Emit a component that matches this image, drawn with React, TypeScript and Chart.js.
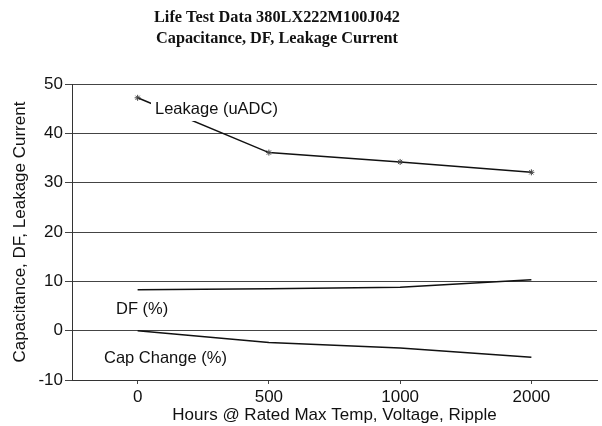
import React, { useEffect, useRef } from "react";
import { Chart, registerables } from "chart.js";
Chart.register(...registerables);

const hours = ["0", "500", "1000", "2000"];
const leakage = [47.2, 36.1, 34.2, 32.1];
const dfPct = [8.3, 8.5, 8.8, 10.3];
const capChange = [0, -2.4, -3.5, -5.4];
const titleLines = ["Life Test Data 380LX222M100J042", "Capacitance, DF, Leakage Current"];
const seriesLabels = ["Leakage (uADC)", "DF (%)", "Cap Change (%)"];

const overlay = {
  id: "overlay",
  afterDraw(chart: any) {
    const ctx = chart.ctx;
    ctx.save();
    ctx.fillStyle = "#111";
    ctx.font = "bold 17.5px 'Liberation Serif', 'Times New Roman', serif";
    ctx.textAlign = "center";
    ctx.textBaseline = "alphabetic";
    ctx.fillText(titleLines[0], 277, 22, 246);
    ctx.fillText(titleLines[1], 277, 43, 242);
    ctx.font = "16.5px 'Liberation Sans', Arial, sans-serif";
    ctx.textAlign = "left";
    ctx.textBaseline = "middle";
    ctx.fillStyle = "#fff";
    ctx.fillRect(151, 99, 131, 22);
    ctx.fillStyle = "#111";
    ctx.fillText(seriesLabels[0], 155, 109);
    ctx.fillText(seriesLabels[1], 116, 309);
    ctx.fillText(seriesLabels[2], 104, 358);
    ctx.restore();
  },
};

export default function App() {
  const ref = useRef<HTMLCanvasElement>(null);
  useEffect(() => {
    if (!ref.current) return;
    const font = { family: "'Liberation Sans', Arial, sans-serif", size: 17 };
    const chart = new Chart(ref.current, {
      type: "line",
      data: {
        labels: hours,
        datasets: [
          {
            label: seriesLabels[0],
            data: leakage,
            borderColor: "#111",
            backgroundColor: "#111",
            borderWidth: 1.5,
            pointStyle: "star",
            pointRadius: 3,
            pointBorderWidth: 1,
            pointBorderColor: "#444",
          },
          {
            label: seriesLabels[1],
            data: dfPct,
            borderColor: "#111",
            borderWidth: 1.5,
            pointRadius: 0,
          },
          {
            label: seriesLabels[2],
            data: capChange,
            borderColor: "#111",
            borderWidth: 1.5,
            pointRadius: 0,
          },
        ],
      },
      options: {
        responsive: false,
        animation: false,
        layout: { padding: { top: 84, right: -4, left: 0, bottom: 0 } },
        plugins: { legend: { display: false }, title: { display: false }, tooltip: { enabled: false } },
        scales: {
          x: {
            type: "category",
            offset: true,
            grid: { display: true, drawOnChartArea: false, drawTicks: true, tickLength: 4, offset: false, color: "#444" },
            border: { display: true, color: "#333", width: 1 },
            ticks: { color: "#111", font, padding: 3, maxRotation: 0 },
            title: {
              display: true,
              text: "Hours @ Rated Max Temp, Voltage, Ripple",
              color: "#111",
              font,
              padding: { top: 3, bottom: 0 },
            },
            afterFit(scale: any) {
              scale.height = 46;
            },
          },
          y: {
            min: -10,
            max: 50,
            ticks: { stepSize: 10, color: "#111", font, padding: 2 },
            grid: { color: "#444", lineWidth: 1, tickLength: 7, drawTicks: true },
            border: { display: true, color: "#333", width: 1 },
            title: {
              display: true,
              text: "Capacitance, DF, Leakage Current",
              color: "#111",
              font,
              padding: { top: 10, bottom: 0 },
            },
            afterFit(scale: any) {
              scale.width = 72;
            },
          },
        },
      },
      plugins: [overlay],
    });
    return () => chart.destroy();
  }, []);
  return (
    <div style={{ position: "fixed", left: 0, top: 0, width: 602, height: 426, background: "#fff" }}>
      <canvas ref={ref} width={602} height={426} style={{ width: 602, height: 426 }} />
    </div>
  );
}
